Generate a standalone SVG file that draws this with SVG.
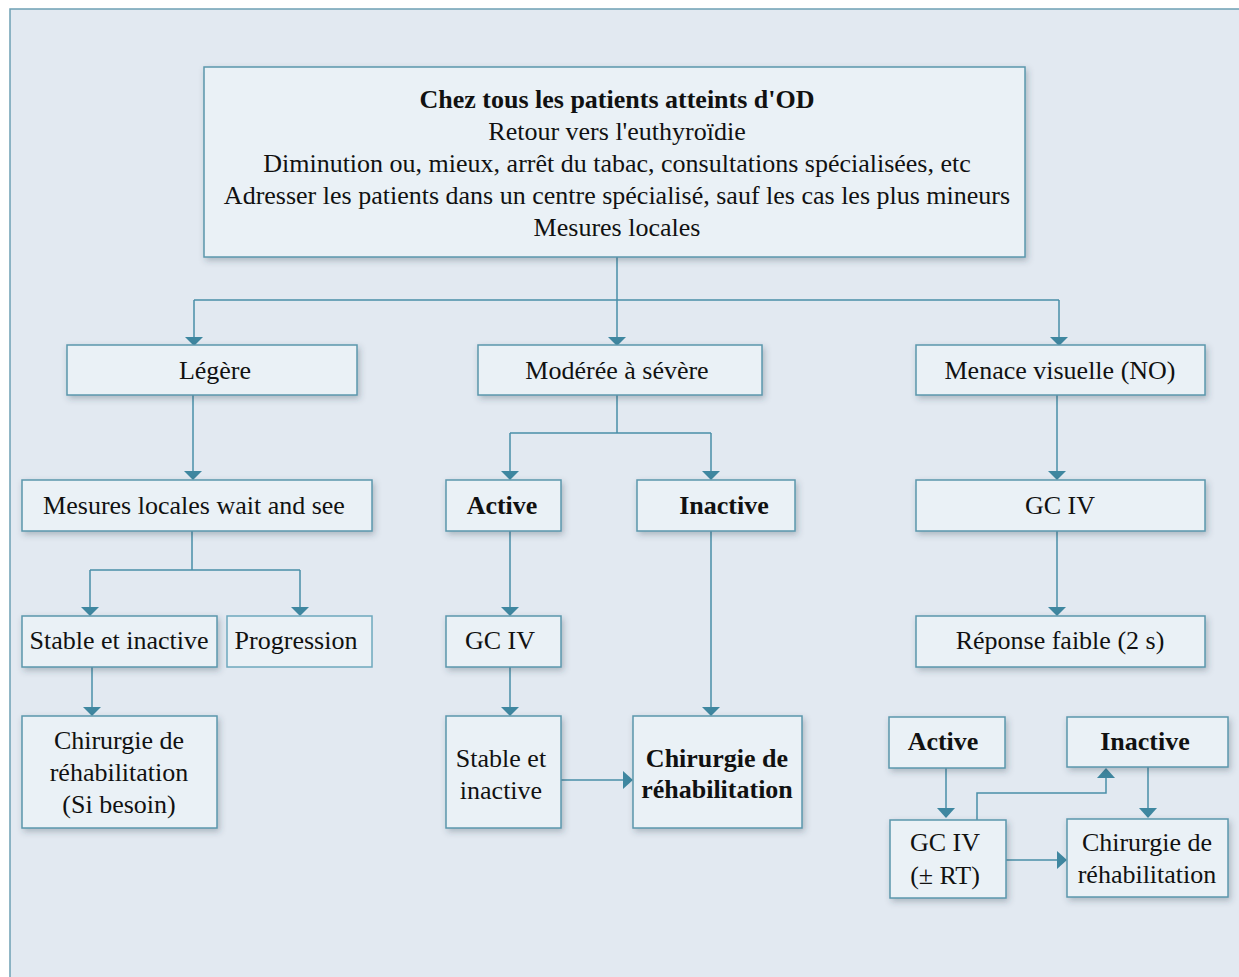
<svg xmlns="http://www.w3.org/2000/svg" width="1239" height="977" viewBox="0 0 1239 977">
<defs>
<filter id="sh" x="-20%" y="-20%" width="140%" height="150%">
<feDropShadow dx="2" dy="3" stdDeviation="3" flood-color="#33404d" flood-opacity="0.3"/>
</filter>
</defs>
<style>
.bx{fill:#eaf1f6;stroke:#5b97ac;stroke-width:1.5;filter:url(#sh)}
.bn{fill:#eaf1f6;stroke:#6ea8bd;stroke-width:1.5}
text{font-family:"Liberation Serif","Times New Roman",serif;font-size:26px;fill:#111;text-anchor:middle}
.b{font-weight:bold}
.c{fill:none;stroke:#4a8fa8;stroke-width:1.5}
.ar{fill:#3f87a0}
</style>
<rect x="10" y="9" width="1240" height="980" fill="#e2e9f1" stroke="#6ea0b4" stroke-width="1.5"/>

<g id="connectors">
<path class="c" d="M617,257 V300 M194,300 H1059 M194,300 V337 M617,300 V337 M1059,300 V337"/>
<path class="c" d="M193,395 V472"/>
<path class="c" d="M192,531 V570 M90,570 H300 M90,570 V608 M300,570 V608"/>
<path class="c" d="M92,667 V708"/>
<path class="c" d="M617,395 V433 M510,433 H711 M510,433 V472 M711,433 V472"/>
<path class="c" d="M510,531 V608 M510,667 V708 M711,531 V708 M561,780 H625"/>
<path class="c" d="M1057,395 V472 M1057,531 V608"/>
<path class="c" d="M946,768 V810 M977,820 V793 H1106 V777 M1148,767 V810 M1006,860 H1059"/>
<g class="ar">
<path d="M185,337 L203,337 L194,346 Z"/>
<path d="M608,337 L626,337 L617,346 Z"/>
<path d="M1050,337 L1068,337 L1059,346 Z"/>
<path d="M184,471 L202,471 L193,480 Z"/>
<path d="M81,607 L99,607 L90,616 Z"/>
<path d="M291,607 L309,607 L300,616 Z"/>
<path d="M83,707 L101,707 L92,716 Z"/>
<path d="M501,471 L519,471 L510,480 Z"/>
<path d="M702,471 L720,471 L711,480 Z"/>
<path d="M501,607 L519,607 L510,616 Z"/>
<path d="M501,707 L519,707 L510,716 Z"/>
<path d="M702,707 L720,707 L711,716 Z"/>
<path d="M623,771 L623,789 L633,780 Z"/>
<path d="M1048,471 L1066,471 L1057,480 Z"/>
<path d="M1048,607 L1066,607 L1057,616 Z"/>
<path d="M937,808 L955,808 L946,818 Z"/>
<path d="M1097,778 L1115,778 L1106,768 Z"/>
<path d="M1139,808 L1157,808 L1148,818 Z"/>
<path d="M1057,851 L1057,869 L1067,860 Z"/>
</g>
</g>

<g id="top">
<rect class="bx" x="204" y="67" width="821" height="190"/>
<text x="617" y="108" class="b">Chez tous les patients atteints d'OD</text>
<text x="617" y="140">Retour vers l'euthyroïdie</text>
<text x="617" y="172">Diminution ou, mieux, arrêt du tabac, consultations spécialisées, etc</text>
<text x="617" y="204">Adresser les patients dans un centre spécialisé, sauf les cas les plus mineurs</text>
<text x="617" y="236">Mesures locales</text>
</g>

<g id="legere"><rect class="bx" x="67" y="345" width="290" height="50"/><text x="215" y="379">Légère</text></g>
<g id="moderee"><rect class="bx" x="478" y="345" width="284" height="50"/><text x="617" y="379">Modérée à sévère</text></g>
<g id="menace"><rect class="bx" x="916" y="345" width="289" height="50"/><text x="1060" y="379">Menace visuelle (NO)</text></g>

<g id="mesures"><rect class="bx" x="22" y="480" width="350" height="51"/><text x="194" y="514">Mesures locales wait and see</text></g>
<g id="stable1"><rect class="bx" x="22" y="616" width="195" height="51"/><text x="119" y="649">Stable et inactive</text></g>
<g id="progression"><rect class="bn" x="227" y="616" width="145" height="51"/><text x="296" y="649">Progression</text></g>
<g id="chir1"><rect class="bx" x="22" y="716" width="195" height="112"/><text x="119" y="749">Chirurgie de</text><text x="119" y="781">réhabilitation</text><text x="119" y="813">(Si besoin)</text></g>

<g id="active1"><rect class="bx" x="446" y="480" width="115" height="51"/><text x="502" y="514" class="b">Active</text></g>
<g id="inactive1"><rect class="bx" x="637" y="480" width="158" height="51"/><text x="724" y="514" class="b">Inactive</text></g>
<g id="gciv1"><rect class="bx" x="446" y="616" width="115" height="51"/><text x="500" y="649">GC IV</text></g>
<g id="stable2"><rect class="bx" x="446" y="716" width="115" height="112"/><text x="501" y="767">Stable et</text><text x="501" y="799">inactive</text></g>
<g id="chir2"><rect class="bx" x="633" y="716" width="169" height="112"/><text x="717" y="767" class="b">Chirurgie de</text><text x="717" y="798" class="b">réhabilitation</text></g>

<g id="gciv2"><rect class="bx" x="916" y="480" width="289" height="51"/><text x="1060" y="514">GC IV</text></g>
<g id="reponse"><rect class="bx" x="916" y="616" width="289" height="51"/><text x="1060" y="649">Réponse faible (2 s)</text></g>

<g id="active2"><rect class="bx" x="889" y="717" width="116" height="51"/><text x="943" y="750" class="b">Active</text></g>
<g id="inactive2"><rect class="bx" x="1067" y="717" width="161" height="50"/><text x="1145" y="750" class="b">Inactive</text></g>
<g id="gciv3"><rect class="bx" x="890" y="820" width="116" height="78"/><text x="945" y="851">GC IV</text><text x="945" y="884">(± RT)</text></g>
<g id="chir3"><rect class="bx" x="1067" y="819" width="161" height="78"/><text x="1147" y="851">Chirurgie de</text><text x="1147" y="883">réhabilitation</text></g>
</svg>
